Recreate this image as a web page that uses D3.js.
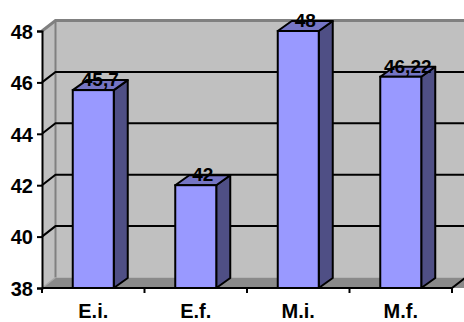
<!DOCTYPE html>
<html>
<head>
<meta charset="utf-8">
<script src="https://cdn.jsdelivr.net/npm/d3@7"></script>
<style>
  html, body { margin: 0; padding: 0; background: #fff; }
  svg { display: block; }
  text { font-family: "Liberation Sans", Arial, sans-serif; font-weight: bold; fill: #000; }
</style>
</head>
<body>
<svg id="chart" width="464" height="322"></svg>
<script>
// Chart data
const categories = ["E.i.", "E.f.", "M.i.", "M.f."];
const values = [45.7, 42, 48, 46.22];
const valueLabels = ["45,7", "42", "48", "46,22"];
const yTicks = [38, 40, 42, 44, 46, 48];

const W = 464, H = 322;
const plotLeft = 42, plotRight = 452, plotBottom = 288, plotTop = 31;
// 3D depth offsets for walls and columns
const dx = 13.5, dy = -10.5;
const bdx = 14, bdy = -10;

const svg = d3.select("#chart");

const y = d3.scaleLinear().domain([38, 48]).range([plotBottom, plotTop]);
const xBand = d3.scaleBand().domain(categories).range([plotLeft, plotRight])
  .paddingInner(0.6).paddingOuter(0.3);
const xCat = d3.scaleBand().domain(categories).range([plotLeft, plotRight]).padding(0);

const wallFill = "#C0C0C0", wallEdge = "#808080", floorFill = "#8A8A8A";

// back wall
svg.append("rect")
  .attr("x", plotLeft + dx).attr("y", plotTop + dy)
  .attr("width", W - plotLeft - dx + 10).attr("height", plotBottom - plotTop)
  .attr("fill", wallFill);

// side wall
svg.append("polygon")
  .attr("points", [[plotLeft, plotTop], [plotLeft + dx, plotTop + dy], [plotLeft + dx, plotBottom + dy], [plotLeft, plotBottom]].join(" "))
  .attr("fill", wallFill);

// floor
svg.append("polygon")
  .attr("points", [[plotLeft, plotBottom], [plotLeft + dx, plotBottom + dy], [plotRight + dx + 20, plotBottom + dy], [plotRight + 20, plotBottom]].join(" "))
  .attr("fill", floorFill);

// wall edges
svg.append("path")
  .attr("d", `M${plotLeft},${plotTop} L${plotLeft + dx},${plotTop + dy} L${W + 5},${plotTop + dy}`)
  .attr("fill", "none").attr("stroke", wallEdge).attr("stroke-width", 3);
svg.append("line")
  .attr("x1", plotLeft + dx).attr("x2", plotLeft + dx)
  .attr("y1", plotTop + dy).attr("y2", plotBottom + dy)
  .attr("stroke", wallEdge).attr("stroke-width", 2);
svg.append("line")
  .attr("x1", plotLeft).attr("y1", plotBottom)
  .attr("x2", plotLeft + dx).attr("y2", plotBottom + dy)
  .attr("stroke", "#A8A8A8").attr("stroke-width", 1.5);

// gridlines on side and back walls
const gridVals = yTicks.filter(v => v > 38 && v < 48);
const grid = svg.append("g").attr("stroke", "#000").attr("stroke-width", 2).attr("fill", "none");
gridVals.forEach(v => {
  grid.append("path")
    .attr("d", `M${plotLeft},${y(v)} L${plotLeft + dx},${y(v) + dy} L${W + 5},${y(v) + dy}`);
});

// floor front edge and right edge
svg.append("path")
  .attr("d", `M${plotLeft},${plotBottom} L${plotRight},${plotBottom} L${plotRight + dx},${plotBottom + dy}`)
  .attr("fill", "none").attr("stroke", "#000").attr("stroke-width", 2);

// columns
const bars = svg.append("g").selectAll("g").data(categories).join("g");
bars.each(function (c, i) {
  const g = d3.select(this);
  const x0 = xBand(c), x1 = x0 + xBand.bandwidth();
  const yt = y(values[i]);
  // right side face
  g.append("polygon")
    .attr("points", [[x1, yt], [x1 + bdx, yt + bdy], [x1 + bdx, plotBottom + bdy], [x1, plotBottom]].join(" "))
    .attr("fill", "#4F4F85").attr("stroke", "#000").attr("stroke-width", 2).attr("stroke-linejoin", "round");
  // top face
  g.append("polygon")
    .attr("points", [[x0, yt], [x0 + bdx, yt + bdy], [x1 + bdx, yt + bdy], [x1, yt]].join(" "))
    .attr("fill", "#7575C4").attr("stroke", "#000").attr("stroke-width", 2).attr("stroke-linejoin", "round");
  // front face
  g.append("rect")
    .attr("x", x0).attr("y", yt).attr("width", x1 - x0).attr("height", plotBottom - yt)
    .attr("fill", "#9999FF").attr("stroke", "#000").attr("stroke-width", 2);
  // value label
  g.append("text")
    .attr("x", (x0 + x1) / 2 + bdx / 2).attr("y", yt - 4)
    .attr("text-anchor", "middle").attr("font-size", 19)
    .text(valueLabels[i]);
});

// y axis
const yAxis = svg.append("g")
  .attr("transform", `translate(${plotLeft},0)`)
  .call(d3.axisLeft(y).tickValues(yTicks).tickSize(5).tickPadding(4).tickFormat(d3.format("d")));
yAxis.attr("font-family", null).attr("font-size", null);
yAxis.select(".domain").attr("stroke", "#000").attr("stroke-width", 2);
yAxis.selectAll(".tick line").attr("stroke", "#000").attr("stroke-width", 2);
yAxis.selectAll(".tick text").attr("font-size", 20).attr("dy", "0.36em");

// x axis ticks at category boundaries
const bounds = categories.map(c => xCat(c)).concat([plotRight]);
svg.append("g").selectAll("line").data(bounds).join("line")
  .attr("x1", d => d).attr("x2", d => d)
  .attr("y1", plotBottom).attr("y2", plotBottom + 5)
  .attr("stroke", "#000").attr("stroke-width", 2);

// category labels
svg.append("g").selectAll("text").data(categories).join("text")
  .attr("x", c => xCat(c) + xCat.bandwidth() / 2)
  .attr("y", 318)
  .attr("text-anchor", "middle").attr("font-size", 20)
  .text(c => c);
</script>
</body>
</html>
